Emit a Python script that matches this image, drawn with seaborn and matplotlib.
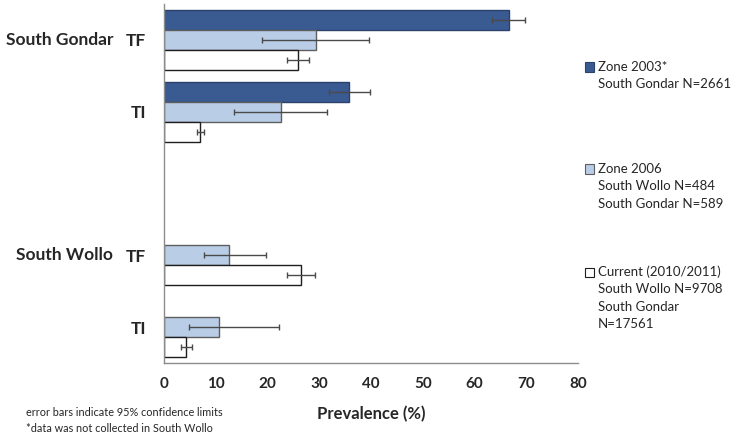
import numpy as np
import pandas as pd
import matplotlib
matplotlib.use("Agg")
import matplotlib.pyplot as plt
from matplotlib.patches import Rectangle
import seaborn as sns

# ---- data ----
categories = ["SG TF", "SG TI", "gap", "SW TF", "SW TI"]
cat_ticklabels = ["TF", "TI", "", "TF", "TI"]
group_labels = ["South Gondar", "South Wollo"]
series = ["Zone 2003*", "Zone 2006", "Current (2010/2011)"]

zone2003 = [66.6, 35.8, None, None, None]
zone2003_lo = [63.4, 31.9, None, None, None]
zone2003_hi = [69.8, 39.9, None, None, None]

zone2006 = [29.3, 22.6, None, 12.6, 10.7]
zone2006_lo = [19.0, 13.6, None, 7.8, 4.9]
zone2006_hi = [39.6, 31.5, None, 19.8, 22.2]

current = [25.9, 7.0, None, 26.5, 4.3]
current_lo = [23.8, 6.3, None, 23.7, 3.2]
current_hi = [28.0, 7.7, None, 29.2, 5.5]

legend_lines = [
    ["Zone 2003*", "South Gondar N=2661"],
    ["Zone 2006", "South Wollo N=484", "South Gondar N=589"],
    ["Current (2010/2011)", "South Wollo N=9708", "South Gondar", "N=17561"],
]
xticks = [0, 10, 20, 30, 40, 50, 60, 70, 80]

# ---- build table ----
rows = []
for s, vals, los, his in [(series[0], zone2003, zone2003_lo, zone2003_hi),
                          (series[1], zone2006, zone2006_lo, zone2006_hi),
                          (series[2], current, current_lo, current_hi)]:
    for c, v, lo, hi in zip(categories, vals, los, his):
        if v is not None:
            rows.append({"cat": c, "series": s, "value": v, "lo": lo, "hi": hi})
df = pd.DataFrame(rows)

colors = {series[0]: "#3A5A92", series[1]: "#B9CDE6", series[2]: "#FFFFFF"}
edges = {series[0]: "#2B426A", series[1]: "#5E5E5E", series[2]: "#1E1E1E"}

sns.set_style("white")
plt.rcParams["font.family"] = ["Lato", "DejaVu Sans"]

fig = plt.figure(figsize=(7.38, 4.37), dpi=100)
ax = fig.add_axes([164 / 738, 1 - 363 / 437, (578 - 164) / 738, (363 - 4) / 437])

W = 0.835
sns.barplot(data=df, y="cat", x="value", hue="series", order=categories,
            hue_order=series, palette=colors, orient="h", width=W,
            errorbar=None, dodge=True, ax=ax, legend=False, saturation=1)

# bar edges
hue_of_patch = []
for s in series:
    n = (df["series"] == s).sum()
    hue_of_patch += [s] * n
for p, s in zip(ax.patches, hue_of_patch):
    p.set_edgecolor(edges[s])
    p.set_linewidth(1.0)

# error bars
for j, s in enumerate(series):
    sub = df[df["series"] == s]
    for _, r in sub.iterrows():
        i = categories.index(r["cat"])
        y = i + (j - 1) * W / 3
        ax.errorbar(r["value"], y, xerr=[[r["value"] - r["lo"]], [r["hi"] - r["value"]]],
                    fmt="none", ecolor="#4A4A4A", elinewidth=1.0, capsize=2.5, capthick=1.0)

ax.set_xlim(0, 80)
ax.set_ylim(4.5, -0.5)
ax.set_xticks(xticks)
ax.set_xticklabels([str(t) for t in xticks], fontsize=11, fontweight="bold")
ax.set_yticks(range(len(categories)))
ax.set_yticklabels(cat_ticklabels, fontsize=12.5, fontweight="bold")
ax.set_yticks(np.arange(-0.5, 5.0, 1.0), minor=True)
ax.tick_params(axis="y", which="major", length=0, pad=13)
ax.tick_params(axis="y", which="minor", length=5, color="#8C8C8C", width=1)
ax.tick_params(axis="x", which="major", length=5, color="#8C8C8C", width=1, direction="in", pad=10)
ax.set_ylabel("")
ax.set_xlabel("Prevalence (%)", fontsize=12, fontweight="bold", labelpad=11)
for side in ["top", "right"]:
    ax.spines[side].set_visible(False)
for side in ["left", "bottom"]:
    ax.spines[side].set_color("#8C8C8C")
    ax.spines[side].set_linewidth(1.0)

# group labels
ax.text(-51 / 414, 0, group_labels[0], transform=ax.get_yaxis_transform(),
        ha="right", va="center", fontsize=12.5, fontweight="bold")
ax.text(-51 / 414, 3, group_labels[1], transform=ax.get_yaxis_transform(),
        ha="right", va="center", fontsize=12.5, fontweight="bold")

# legend (custom)
starts = [67, 169, 272]
step = 17.3
for k, (lines, s) in enumerate(zip(legend_lines, series)):
    y0 = starts[k]
    fig.patches.append(Rectangle((585 / 738, 1 - (y0 + 4.5) / 437), 9 / 738, 9 / 437,
                                 transform=fig.transFigure, facecolor=colors[s],
                                 edgecolor=edges[s], linewidth=0.8))
    for m, line in enumerate(lines):
        fig.text(598 / 738, 1 - (y0 + m * step) / 437, line, ha="left", va="center",
                 fontsize=9.5)

fig.text(26 / 738, 1 - 412 / 437, "error bars indicate 95% confidence limits",
         ha="left", va="center", fontsize=7.8)
fig.text(26 / 738, 1 - 428 / 437, "*data was not collected in South Wollo",
         ha="left", va="center", fontsize=7.8)

fig.savefig("out.png", dpi=100)
